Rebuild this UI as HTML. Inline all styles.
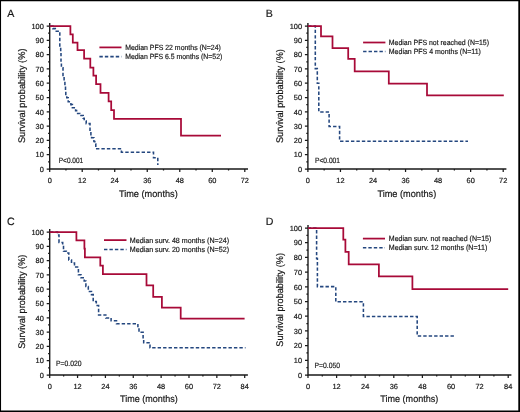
<!DOCTYPE html><html><head><meta charset="utf-8"><style>html,body{margin:0;padding:0;background:#fff;width:520px;height:412px;overflow:hidden}svg{display:block;will-change:transform}text{text-rendering:geometricPrecision;font-family:'Liberation Sans', sans-serif;fill:#1a1a1a;stroke:#111;stroke-width:0.18px}</style></head><body>
<svg width="520" height="412" viewBox="0 0 520 412">
<rect x="0" y="0" width="520" height="412" fill="#fff"/>
<path d="M0 0H520V1.2H0Z M0 0H1.05V412H0Z M518.3 0H520V412H518.3Z M0 410.6H520V412H0Z" fill="#000"/>
<g><path d="M49.7 169.7 V23 M49 169 H248" stroke="#1a1a1a" stroke-width="1.4" fill="none"/><path d="M46.7 169 H49.7 M48.1 161.85 H49.7 M46.7 154.7 H49.7 M48.1 147.55 H49.7 M46.7 140.4 H49.7 M48.1 133.25 H49.7 M46.7 126.1 H49.7 M48.1 118.95 H49.7 M46.7 111.8 H49.7 M48.1 104.65 H49.7 M46.7 97.5 H49.7 M48.1 90.35 H49.7 M46.7 83.2 H49.7 M48.1 76.05 H49.7 M46.7 68.9 H49.7 M48.1 61.75 H49.7 M46.7 54.6 H49.7 M48.1 47.45 H49.7 M46.7 40.3 H49.7 M48.1 33.15 H49.7 M46.7 26 H49.7 M49.7 169 V172 M65.96 169 V170.6 M82.22 169 V172 M98.47 169 V170.6 M114.73 169 V172 M130.99 169 V170.6 M147.25 169 V172 M163.51 169 V170.6 M179.77 169 V172 M196.02 169 V170.6 M212.28 169 V172 M228.54 169 V170.6 M244.8 169 V172 " stroke="#1a1a1a" stroke-width="1.25" fill="none"/><text x="43.8" y="171.7" font-size="7.4" text-anchor="end">0</text><text x="43.8" y="157.4" font-size="7.4" text-anchor="end">10</text><text x="43.8" y="143.1" font-size="7.4" text-anchor="end">20</text><text x="43.8" y="128.8" font-size="7.4" text-anchor="end">30</text><text x="43.8" y="114.5" font-size="7.4" text-anchor="end">40</text><text x="43.8" y="100.2" font-size="7.4" text-anchor="end">50</text><text x="43.8" y="85.9" font-size="7.4" text-anchor="end">60</text><text x="43.8" y="71.6" font-size="7.4" text-anchor="end">70</text><text x="43.8" y="57.3" font-size="7.4" text-anchor="end">80</text><text x="43.8" y="43" font-size="7.4" text-anchor="end">90</text><text x="43.8" y="28.7" font-size="7.4" text-anchor="end">100</text><text x="49.7" y="182.8" font-size="7.4" text-anchor="middle">0</text><text x="82.22" y="182.8" font-size="7.4" text-anchor="middle">12</text><text x="114.73" y="182.8" font-size="7.4" text-anchor="middle">24</text><text x="147.25" y="182.8" font-size="7.4" text-anchor="middle">36</text><text x="179.77" y="182.8" font-size="7.4" text-anchor="middle">48</text><text x="212.28" y="182.8" font-size="7.4" text-anchor="middle">60</text><text x="244.8" y="182.8" font-size="7.4" text-anchor="middle">72</text><text transform="translate(24.9 143.1) rotate(-90)" x="0" y="0" font-size="9.6" textLength="94.6" lengthAdjust="spacingAndGlyphs">Survival probability (%)</text><text x="118.9" y="196.6" font-size="9.6" textLength="58.8" lengthAdjust="spacingAndGlyphs">Time (months)</text><text x="7.3" y="16.7" font-size="10.6">A</text><path d="M99.4 47.4 H121.5" stroke="#a80a38" stroke-width="1.75" fill="none"/><path d="M99.4 56.6 H121.5" stroke="#24477f" stroke-width="1.55" fill="none" stroke-dasharray="3.4 2.05"/><text x="125.2" y="49.9" font-size="7.5" textLength="95.7" lengthAdjust="spacingAndGlyphs">Median PFS 22 months (N=24)</text><text x="125.2" y="59.1" font-size="7.5" textLength="97.1" lengthAdjust="spacingAndGlyphs">Median PFS 6.5 months (N=52)</text><text x="58.8" y="162.8" font-size="7.6" textLength="24.3" lengthAdjust="spacingAndGlyphs">P&lt;0.001</text><path d="M49.7 26 L52.9 26 L52.9 28.6 L55.3 28.6 L55.3 31.2 L59.8 31.2 L59.8 47 L60.7 47 L60.7 52.5 L61 52.5 L61 62.5 L61.4 62.5 L61.4 67.8 L63 67.8 L63 76.3 L64.1 76.3 L64.1 81.3 L64.9 81.3 L64.9 86 L65.5 86 L65.5 91.2 L65.8 91.2 L65.8 95.5 L66.8 95.5 L66.8 97.8 L68.2 97.8 L68.2 101.8 L70.9 101.8 L70.9 104.6 L72.4 104.6 L72.4 107.7 L75.6 107.7 L75.6 110.6 L76.6 110.6 L76.6 113.4 L79.8 113.4 L79.8 115.5 L83.2 115.5 L83.2 118.2 L84.2 118.2 L84.2 120.9 L86.2 120.9 L86.2 123.6 L90 123.6 L90 131.2 L90.9 131.2 L90.9 135.8 L91.6 135.8 L91.6 137.8 L93.9 137.8 L93.9 141.5 L94.8 141.5 L94.8 144 L95.8 144 L95.8 148.8 L121.4 148.8 L121.4 152.2 L153.5 152.2 L153.5 157.8 L157.8 157.8 L157.8 165" stroke="#24477f" stroke-width="1.55" fill="none" stroke-dasharray="3.4 2.05" stroke-dashoffset="5.34" stroke-linejoin="miter"/><path d="M49.7 26 L70.4 26 L70.4 34.3 L72.8 34.3 L72.8 42.5 L77.5 42.5 L77.5 50 L84.1 50 L84.1 58.6 L90.3 58.6 L90.3 67.6 L93.4 67.6 L93.4 75.7 L96.1 75.7 L96.1 84.2 L100.5 84.2 L100.5 92.8 L108.6 92.8 L108.6 101.4 L111.2 101.4 L111.2 110.1 L114 110.1 L114 118.8 L181 118.8 L181 135.7 L221 135.7" stroke="#a80a38" stroke-width="1.75" fill="none" stroke-linejoin="miter" stroke-linecap="butt"/></g>
<g><path d="M307.9 169.7 V23 M307.2 169 H506.4" stroke="#1a1a1a" stroke-width="1.4" fill="none"/><path d="M304.9 169 H307.9 M306.3 161.85 H307.9 M304.9 154.7 H307.9 M306.3 147.55 H307.9 M304.9 140.4 H307.9 M306.3 133.25 H307.9 M304.9 126.1 H307.9 M306.3 118.95 H307.9 M304.9 111.8 H307.9 M306.3 104.65 H307.9 M304.9 97.5 H307.9 M306.3 90.35 H307.9 M304.9 83.2 H307.9 M306.3 76.05 H307.9 M304.9 68.9 H307.9 M306.3 61.75 H307.9 M304.9 54.6 H307.9 M306.3 47.45 H307.9 M304.9 40.3 H307.9 M306.3 33.15 H307.9 M304.9 26 H307.9 M307.9 169 V172 M324.17 169 V170.6 M340.45 169 V172 M356.72 169 V170.6 M373 169 V172 M389.27 169 V170.6 M405.55 169 V172 M421.82 169 V170.6 M438.1 169 V172 M454.38 169 V170.6 M470.65 169 V172 M486.93 169 V170.6 M503.2 169 V172 " stroke="#1a1a1a" stroke-width="1.25" fill="none"/><text x="302" y="171.7" font-size="7.4" text-anchor="end">0</text><text x="302" y="157.4" font-size="7.4" text-anchor="end">10</text><text x="302" y="143.1" font-size="7.4" text-anchor="end">20</text><text x="302" y="128.8" font-size="7.4" text-anchor="end">30</text><text x="302" y="114.5" font-size="7.4" text-anchor="end">40</text><text x="302" y="100.2" font-size="7.4" text-anchor="end">50</text><text x="302" y="85.9" font-size="7.4" text-anchor="end">60</text><text x="302" y="71.6" font-size="7.4" text-anchor="end">70</text><text x="302" y="57.3" font-size="7.4" text-anchor="end">80</text><text x="302" y="43" font-size="7.4" text-anchor="end">90</text><text x="302" y="28.7" font-size="7.4" text-anchor="end">100</text><text x="307.9" y="182.8" font-size="7.4" text-anchor="middle">0</text><text x="340.45" y="182.8" font-size="7.4" text-anchor="middle">12</text><text x="373" y="182.8" font-size="7.4" text-anchor="middle">24</text><text x="405.55" y="182.8" font-size="7.4" text-anchor="middle">36</text><text x="438.1" y="182.8" font-size="7.4" text-anchor="middle">48</text><text x="470.65" y="182.8" font-size="7.4" text-anchor="middle">60</text><text x="503.2" y="182.8" font-size="7.4" text-anchor="middle">72</text><text transform="translate(283 143) rotate(-90)" x="0" y="0" font-size="9.6" textLength="93.9" lengthAdjust="spacingAndGlyphs">Survival probability (%)</text><text x="377.4" y="196.5" font-size="9.6" textLength="58.8" lengthAdjust="spacingAndGlyphs">Time (months)</text><text x="265.8" y="16.9" font-size="10.6">B</text><path d="M363.1 42.5 H385.4" stroke="#a80a38" stroke-width="1.75" fill="none"/><path d="M363.1 51.5 H385.4" stroke="#24477f" stroke-width="1.55" fill="none" stroke-dasharray="3.4 2.05"/><text x="388.8" y="44.9" font-size="7.5" textLength="100.2" lengthAdjust="spacingAndGlyphs">Median PFS not reached (N=15)</text><text x="388.8" y="53.9" font-size="7.5" textLength="92.1" lengthAdjust="spacingAndGlyphs">Median PFS 4 months (N=11)</text><text x="315" y="162.6" font-size="7.6" textLength="25" lengthAdjust="spacingAndGlyphs">P&lt;0.001</text><path d="M307.9 26 L315.3 26 L315.3 68.6 L317.3 68.6 L317.3 83.2 L318.8 83.2 L318.8 112 L329.1 112 L329.1 126.4 L339.6 126.4 L339.6 141.2 L468 141.2" stroke="#24477f" stroke-width="1.55" fill="none" stroke-dasharray="3.4 2.05" stroke-dashoffset="5.24" stroke-linejoin="miter"/><path d="M307.9 26 L321 26 L321 36.3 L332.5 36.3 L332.5 48 L348.2 48 L348.2 58.8 L354.7 58.8 L354.7 71.4 L388.8 71.4 L388.8 83.6 L427 83.6 L427 95.4 L503.8 95.4" stroke="#a80a38" stroke-width="1.75" fill="none" stroke-linejoin="miter" stroke-linecap="butt"/></g>
<g><path d="M49.7 375.7 V229 M49 375 H247.9" stroke="#1a1a1a" stroke-width="1.4" fill="none"/><path d="M46.7 375 H49.7 M48.1 367.85 H49.7 M46.7 360.7 H49.7 M48.1 353.55 H49.7 M46.7 346.4 H49.7 M48.1 339.25 H49.7 M46.7 332.1 H49.7 M48.1 324.95 H49.7 M46.7 317.8 H49.7 M48.1 310.65 H49.7 M46.7 303.5 H49.7 M48.1 296.35 H49.7 M46.7 289.2 H49.7 M48.1 282.05 H49.7 M46.7 274.9 H49.7 M48.1 267.75 H49.7 M46.7 260.6 H49.7 M48.1 253.45 H49.7 M46.7 246.3 H49.7 M48.1 239.15 H49.7 M46.7 232 H49.7 M49.7 375 V378 M63.63 375 V376.6 M77.56 375 V378 M91.49 375 V376.6 M105.41 375 V378 M119.34 375 V376.6 M133.27 375 V378 M147.2 375 V376.6 M161.13 375 V378 M175.06 375 V376.6 M188.99 375 V378 M202.91 375 V376.6 M216.84 375 V378 M230.77 375 V376.6 M244.7 375 V378 " stroke="#1a1a1a" stroke-width="1.25" fill="none"/><text x="43.8" y="377.7" font-size="7.4" text-anchor="end">0</text><text x="43.8" y="363.4" font-size="7.4" text-anchor="end">10</text><text x="43.8" y="349.1" font-size="7.4" text-anchor="end">20</text><text x="43.8" y="334.8" font-size="7.4" text-anchor="end">30</text><text x="43.8" y="320.5" font-size="7.4" text-anchor="end">40</text><text x="43.8" y="306.2" font-size="7.4" text-anchor="end">50</text><text x="43.8" y="291.9" font-size="7.4" text-anchor="end">60</text><text x="43.8" y="277.6" font-size="7.4" text-anchor="end">70</text><text x="43.8" y="263.3" font-size="7.4" text-anchor="end">80</text><text x="43.8" y="249" font-size="7.4" text-anchor="end">90</text><text x="43.8" y="234.7" font-size="7.4" text-anchor="end">100</text><text x="49.7" y="388.8" font-size="7.4" text-anchor="middle">0</text><text x="77.56" y="388.8" font-size="7.4" text-anchor="middle">12</text><text x="105.41" y="388.8" font-size="7.4" text-anchor="middle">24</text><text x="133.27" y="388.8" font-size="7.4" text-anchor="middle">36</text><text x="161.13" y="388.8" font-size="7.4" text-anchor="middle">48</text><text x="188.99" y="388.8" font-size="7.4" text-anchor="middle">60</text><text x="216.84" y="388.8" font-size="7.4" text-anchor="middle">72</text><text x="244.7" y="388.8" font-size="7.4" text-anchor="middle">84</text><text transform="translate(25 348.8) rotate(-90)" x="0" y="0" font-size="9.6" textLength="94.2" lengthAdjust="spacingAndGlyphs">Survival probability (%)</text><text x="120" y="402.3" font-size="9.6" textLength="57.7" lengthAdjust="spacingAndGlyphs">Time (months)</text><text x="7" y="224.8" font-size="10.6">C</text><path d="M104 240.1 H126.5" stroke="#a80a38" stroke-width="1.75" fill="none"/><path d="M104 249.5 H126.5" stroke="#24477f" stroke-width="1.55" fill="none" stroke-dasharray="3.4 2.05"/><text x="129.8" y="242.5" font-size="7.5" textLength="99.2" lengthAdjust="spacingAndGlyphs">Median surv. 48 months (N=24)</text><text x="129.8" y="251.7" font-size="7.5" textLength="99.2" lengthAdjust="spacingAndGlyphs">Median surv. 20 months (N=52)</text><text x="56" y="365.9" font-size="7.6" textLength="25.5" lengthAdjust="spacingAndGlyphs">P=0.020</text><path d="M49.7 232 L57.5 232 L57.5 235 L59 235 L59 242.4 L62.7 242.4 L62.7 246.5 L63.5 246.5 L63.5 251.3 L66.3 251.3 L66.3 253 L68.8 253 L68.8 260 L71.5 260 L71.5 263 L74.5 263 L74.5 267 L78.4 267 L78.4 274.7 L81 274.7 L81 277.7 L84.2 277.7 L84.2 281 L85.9 281 L85.9 286.4 L88.3 286.4 L88.3 291.4 L91.5 291.4 L91.5 294.6 L93.2 294.6 L93.2 301.5 L96.3 301.5 L96.3 305.5 L98.6 305.5 L98.6 314.9 L105.8 314.9 L105.8 317.9 L111.1 317.9 L111.1 320.8 L116.5 320.8 L116.5 323.8 L137.9 323.8 L137.9 327.5 L139 327.5 L139 332.3 L143.1 332.3 L143.1 339.5 L143.7 339.5 L143.7 342.7 L150 342.7 L150 347.8 L245.5 347.8" stroke="#24477f" stroke-width="1.55" fill="none" stroke-dasharray="3.4 2.05" stroke-dashoffset="5.16" stroke-linejoin="miter"/><path d="M49.7 232 L76.4 232 L76.4 240.3 L84.4 240.3 L84.4 248.5 L84.9 248.5 L84.9 257.4 L100.3 257.4 L100.3 265.6 L102.9 265.6 L102.9 274.2 L146.5 274.2 L146.5 285.4 L153.2 285.4 L153.2 296.8 L161.9 296.8 L161.9 307.6 L180.7 307.6 L180.7 318.7 L244.6 318.7" stroke="#a80a38" stroke-width="1.75" fill="none" stroke-linejoin="miter" stroke-linecap="butt"/></g>
<g><path d="M308 375.7 V225 M307.3 375 H511.4" stroke="#1a1a1a" stroke-width="1.4" fill="none"/><path d="M305 375 H308 M306.4 367.65 H308 M305 360.3 H308 M306.4 352.95 H308 M305 345.6 H308 M306.4 338.25 H308 M305 330.9 H308 M306.4 323.55 H308 M305 316.2 H308 M306.4 308.85 H308 M305 301.5 H308 M306.4 294.15 H308 M305 286.8 H308 M306.4 279.45 H308 M305 272.1 H308 M306.4 264.75 H308 M305 257.4 H308 M306.4 250.05 H308 M305 242.7 H308 M306.4 235.35 H308 M305 228 H308 M308 375 V378 M322.3 375 V376.6 M336.6 375 V378 M350.9 375 V376.6 M365.2 375 V378 M379.5 375 V376.6 M393.8 375 V378 M408.1 375 V376.6 M422.4 375 V378 M436.7 375 V376.6 M451 375 V378 M465.3 375 V376.6 M479.6 375 V378 M493.9 375 V376.6 M508.2 375 V378 " stroke="#1a1a1a" stroke-width="1.25" fill="none"/><text x="302.1" y="377.7" font-size="7.4" text-anchor="end">0</text><text x="302.1" y="363" font-size="7.4" text-anchor="end">10</text><text x="302.1" y="348.3" font-size="7.4" text-anchor="end">20</text><text x="302.1" y="333.6" font-size="7.4" text-anchor="end">30</text><text x="302.1" y="318.9" font-size="7.4" text-anchor="end">40</text><text x="302.1" y="304.2" font-size="7.4" text-anchor="end">50</text><text x="302.1" y="289.5" font-size="7.4" text-anchor="end">60</text><text x="302.1" y="274.8" font-size="7.4" text-anchor="end">70</text><text x="302.1" y="260.1" font-size="7.4" text-anchor="end">80</text><text x="302.1" y="245.4" font-size="7.4" text-anchor="end">90</text><text x="302.1" y="230.7" font-size="7.4" text-anchor="end">100</text><text x="308" y="388.8" font-size="7.4" text-anchor="middle">0</text><text x="336.6" y="388.8" font-size="7.4" text-anchor="middle">12</text><text x="365.2" y="388.8" font-size="7.4" text-anchor="middle">24</text><text x="393.8" y="388.8" font-size="7.4" text-anchor="middle">36</text><text x="422.4" y="388.8" font-size="7.4" text-anchor="middle">48</text><text x="451" y="388.8" font-size="7.4" text-anchor="middle">60</text><text x="479.6" y="388.8" font-size="7.4" text-anchor="middle">72</text><text x="508.2" y="388.8" font-size="7.4" text-anchor="middle">84</text><text transform="translate(282.9 346.7) rotate(-90)" x="0" y="0" font-size="9.6" textLength="93.7" lengthAdjust="spacingAndGlyphs">Survival probability (%)</text><text x="380.3" y="402.4" font-size="9.6" textLength="58" lengthAdjust="spacingAndGlyphs">Time (months)</text><text x="265.8" y="224.8" font-size="10.6">D</text><path d="M362.9 238.6 H385" stroke="#a80a38" stroke-width="1.75" fill="none"/><path d="M362.9 247.8 H385" stroke="#24477f" stroke-width="1.55" fill="none" stroke-dasharray="3.4 2.05"/><text x="388.8" y="240.9" font-size="7.5" textLength="102.5" lengthAdjust="spacingAndGlyphs">Median surv. not reached (N=15)</text><text x="388.8" y="250.1" font-size="7.5" textLength="98.5" lengthAdjust="spacingAndGlyphs">Median surv. 12 months (N=11)</text><text x="314.5" y="367.8" font-size="7.6" textLength="25.5" lengthAdjust="spacingAndGlyphs">P=0.050</text><path d="M308 228.1 L316.6 228.1 L316.6 258.5 L317.4 258.5 L317.4 286.6 L335.8 286.6 L335.8 301.8 L363.4 301.8 L363.4 316.5 L417.2 316.5 L417.2 336 L454.1 336" stroke="#24477f" stroke-width="1.55" fill="none" stroke-dasharray="3.4 2.05" stroke-dashoffset="0.3" stroke-linejoin="miter"/><path d="M308 228.1 L343.3 228.1 L343.3 239.5 L345.4 239.5 L345.4 251.8 L348.7 251.8 L348.7 264.4 L378.9 264.4 L378.9 276.4 L412.4 276.4 L412.4 289.1 L508.2 289.1" stroke="#a80a38" stroke-width="1.75" fill="none" stroke-linejoin="miter" stroke-linecap="butt"/></g>
</svg></body></html>
